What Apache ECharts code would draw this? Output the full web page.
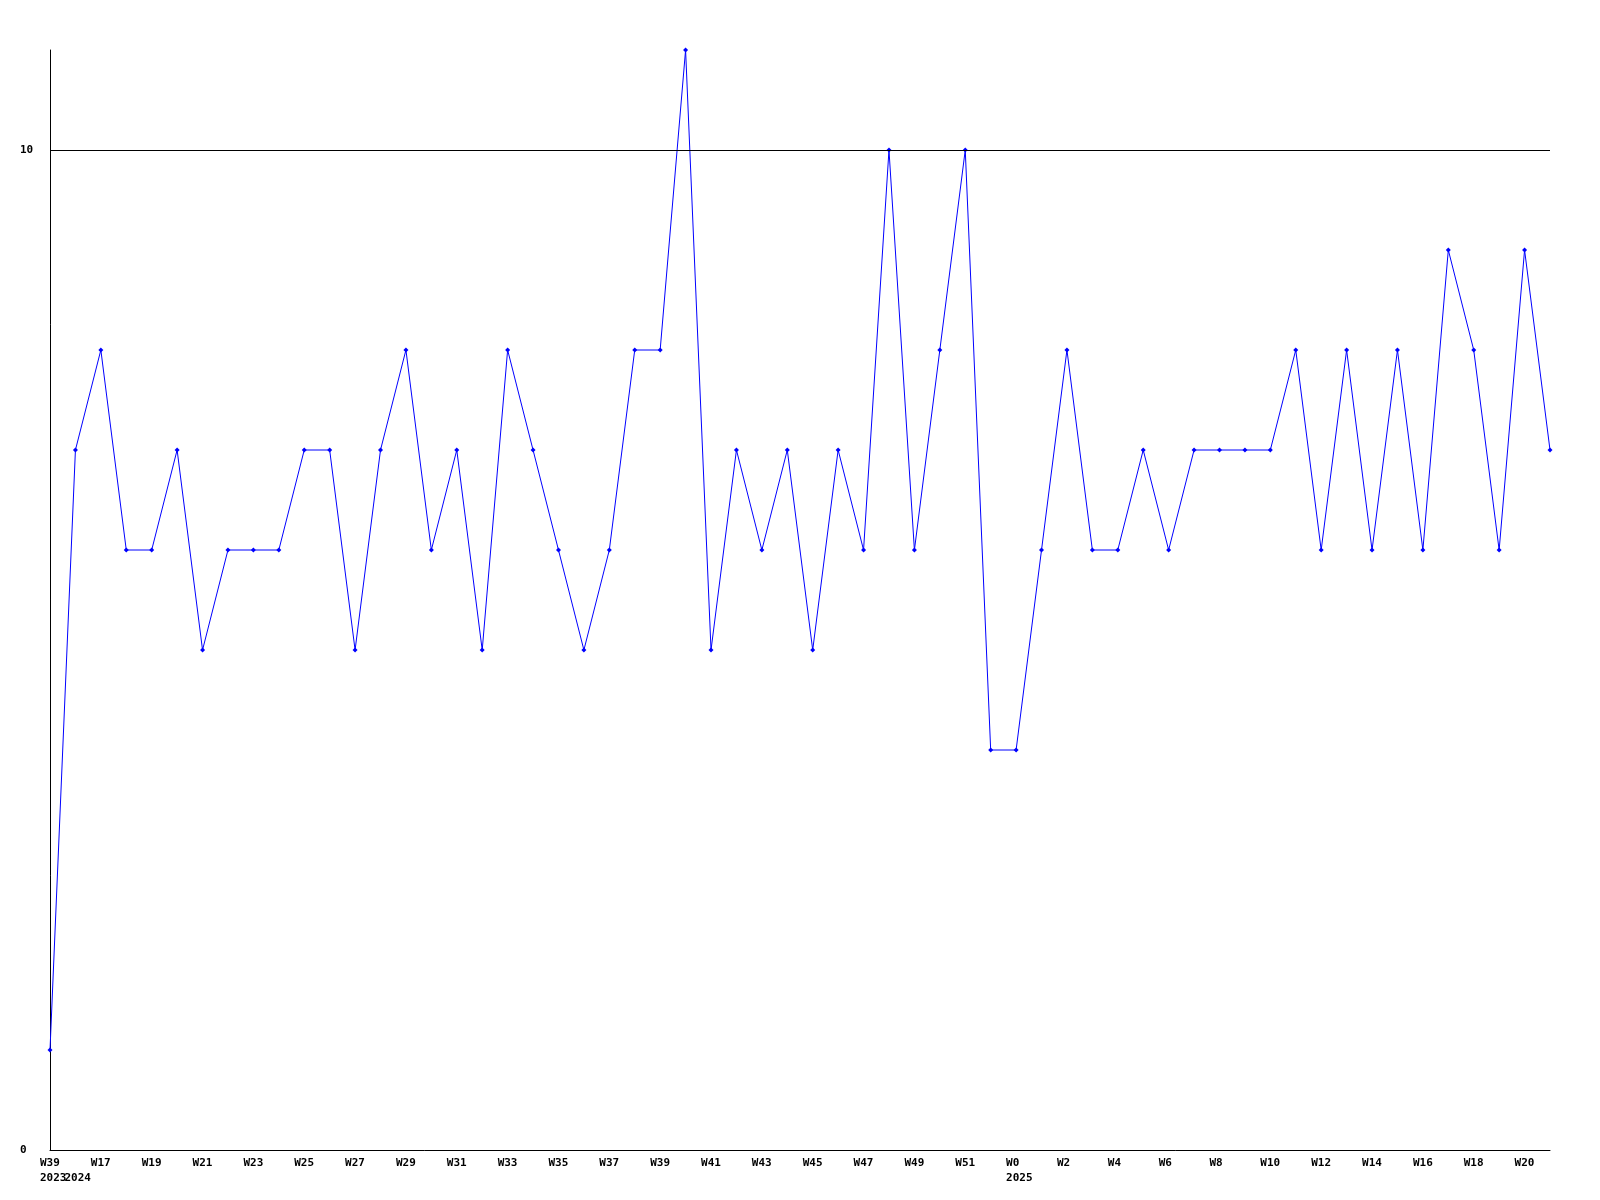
<!DOCTYPE html>
<html>
<head>
<meta charset="utf-8">
<script src="https://cdn.jsdelivr.net/npm/echarts@6/dist/echarts.min.js"></script>
<style>
html,body{margin:0;padding:0;background:#fff;}
#chart{width:1600px;height:1200px;}
</style>
</head>
<body>
<div id="chart"></div>
<script>
// Week labels (index 0 = 2023 W39, then 2024 W16..W52, then 2025 W0..W21)
const weeks = ['W39',
  'W16','W17','W18','W19','W20','W21','W22','W23','W24','W25','W26','W27','W28','W29','W30','W31','W32','W33','W34','W35','W36','W37','W38','W39','W40','W41','W42','W43','W44','W45','W46','W47','W48','W49','W50','W51','W52',
  'W0','W1','W2','W3','W4','W5','W6','W7','W8','W9','W10','W11','W12','W13','W14','W15','W16','W17','W18','W19','W20','W21'];
// Year markers shown under the first week of each year
const yearMarks = {0: '2023', 1: '2024', 38: '2025'};
const values = [1,
  7,8,6,6,7,5,6,6,6,7,7,5,7,8,6,7,5,8,7,6,5,6,8,8,11,5,7,6,7,5,7,6,10,6,8,10,4,
  4,6,8,6,6,7,6,7,7,7,7,8,6,8,6,8,6,9,8,6,9,7];
const yTicks = [0, 10];
const refLine = 10;

const chart = echarts.init(document.getElementById('chart'), null, {renderer: 'canvas'});
const font = {fontFamily: 'DejaVu Sans Mono', fontWeight: 'bold', fontSize: 11, color: '#000'};
chart.setOption({
  animation: false,
  backgroundColor: '#fff',
  grid: {left: 50, right: 50, top: 50, bottom: 50},
  xAxis: {
    type: 'category',
    data: weeks,
    boundaryGap: false,
    axisLine: {lineStyle: {color: '#000', width: 1}},
    axisTick: {show: false},
    splitLine: {show: false},
    axisLabel: Object.assign({}, font, {
      margin: 6,
      align: 'left',
      lineHeight: 15,
      padding: [0, 0, 0, -10],
      showMinLabel: true,
      showMaxLabel: true,
      hideOverlap: false,
      interval: function (idx) { return idx % 2 === 0; },
      formatter: function (v, idx) {
        if (idx === 0) return v + '\n{y0|' + yearMarks[0] + '}{y1|' + yearMarks[1] + '}';
        return yearMarks[idx] ? v + '\n' + yearMarks[idx] : v;
      },
      rich: {
        y0: Object.assign({}, font, {lineHeight: 15}),
        y1: Object.assign({}, font, {lineHeight: 15, padding: [0, 0, 0, -2]})
      }
    })
  },
  yAxis: {
    type: 'value',
    min: 0,
    max: 11,
    interval: 10,
    axisLine: {show: true, lineStyle: {color: '#000', width: 1}},
    axisTick: {show: false},
    splitLine: {show: false},
    axisLabel: Object.assign({}, font, {
      margin: 30,
      align: 'left',
      showMaxLabel: false,
      formatter: function (v) { return yTicks.indexOf(v) >= 0 ? String(v) : ''; }
    })
  },
  series: [{
    type: 'line',
    data: values,
    symbol: 'diamond',
    symbolSize: 5,
    lineStyle: {color: '#0000ff', width: 1},
    itemStyle: {color: '#0000ff'},
    markLine: {
      silent: true,
      symbol: ['none', 'none'],
      label: {show: false},
      lineStyle: {color: '#000', width: 1, type: 'solid'},
      data: [{yAxis: refLine}]
    }
  }]
});
</script>
</body>
</html>
